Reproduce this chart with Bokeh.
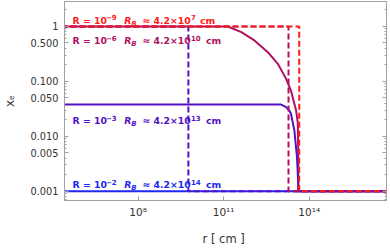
import numpy as np
from bokeh.plotting import figure
from bokeh.models import LogAxis, FixedTicker, Label, Range1d
from bokeh.embed import file_html
from bokeh.resources import INLINE

# ---------------- data ----------------
r_blue = [1e5, 1e17]
xe_blue = [0.001, 0.001]

r_crimson = [1e5, 1.41e11, 4.17e11, 1.20e12, 3.55e12, 7.94e12, 1.55e13, 2.29e13,
             3.02e13, 3.47e13, 3.98e13, 4.12e13, 4.17e13, 1e17]
xe_crimson = [1.0, 1.0, 0.787, 0.556, 0.340, 0.209, 0.111, 0.068,
              0.039, 0.0295, 0.0175, 0.005, 0.001, 0.001]

r_purple = [1e5, 1.0e13, 1.55e13, 2.0e13, 2.29e13, 3.02e13, 3.72e13, 3.98e13, 4.17e13, 1e17]
xe_purple = [0.038, 0.038, 0.034, 0.0295, 0.0257, 0.0128, 0.0042, 0.0021, 0.001, 0.001]

# dashed step fronts (x_e = 1 inside, 0.001 outside)
step_red = 4.47e13
step_crimson = 1.88e13
step_purple = 5.8e9

y_ticks = [0.001, 0.005, 0.01, 0.05, 0.1, 0.5, 1.0]
y_tick_labels = ["0.001", "0.005", "0.010", "0.050", "0.100", "0.500", "1"]
x_ticks = [1e8, 1e11, 1e14]
x_tick_labels = ["10⁸", "10¹¹", "10¹⁴"]

label_R_exp = ["−9", "−6", "−3", "−2"]
label_RB_exp = ["7", "10", "13", "14"]
label_y = [1.31, 0.556, 0.0194, 0.00131]   # baseline of each label (data units)

RED = "#ff1a1a"
CRIMSON = "#b01060"
PURPLE = "#5510c4"
BLUE = "#1e28f0"
label_colors = [RED, CRIMSON, PURPLE, BLUE]

FONT = "DejaVu Sans"
GRAY = "#a0a0a0"
TXT = "#333333"

p = figure(width=390, height=250, x_axis_type="log", y_axis_type="log",
           x_range=Range1d(10**5.42, 10**16.71), y_range=Range1d(6.76e-4, 2.85),
           output_backend="svg", toolbar_location=None,
           min_border_left=62, min_border_right=4, min_border_top=1, min_border_bottom=50)
p.xgrid.visible = False
p.ygrid.visible = False
p.outline_line_color = GRAY
p.background_fill_color = "white"

y_minor = [k * 10.0**n for n in range(-4, 1) for k in range(1, 10)]

def style_axis(ax, ticks, minor, show_labels):
    ax.ticker = FixedTicker(ticks=ticks, minor_ticks=minor)
    ax.axis_line_color = GRAY
    ax.major_tick_line_color = GRAY
    ax.minor_tick_line_color = GRAY
    ax.major_tick_in = 4
    ax.major_tick_out = 0
    ax.minor_tick_in = 2
    ax.minor_tick_out = 0
    ax.major_label_text_font = FONT
    ax.major_label_text_color = TXT
    ax.axis_label_text_font = FONT
    ax.axis_label_text_color = TXT
    ax.axis_label_text_font_style = "normal"
    if not show_labels:
        ax.major_label_text_font_size = "1px"
        ax.major_label_text_alpha = 0.0
        ax.major_label_standoff = 0

yax = p.yaxis[0]
style_axis(yax, y_ticks, y_minor, True)
yax.major_label_overrides = {t: s for t, s in zip(y_ticks, y_tick_labels)}
yax.major_label_text_font_size = "9.8px"
yax.major_label_standoff = 6
yax.axis_label = "xₑ"
yax.axis_label_text_font_size = "12px"
yax.axis_label_standoff = 10

xax = p.xaxis[0]
style_axis(xax, x_ticks, [1e8], True)
xax.major_label_overrides = {t: s for t, s in zip(x_ticks, x_tick_labels)}
xax.major_label_text_font_size = "10.5px"
xax.major_label_standoff = 5
xax.axis_label = "r  [ cm ]"
xax.axis_label_text_font_size = "11.5px"
xax.axis_label_standoff = 11

rax = LogAxis()
style_axis(rax, y_ticks, y_minor, False)
p.add_layout(rax, "right")

# ---------------- lines ----------------
W = 2.0
p.line(r_blue, xe_blue, line_color=BLUE, line_width=W)
p.line(r_crimson, xe_crimson, line_color=CRIMSON, line_width=W)
p.line(r_purple, xe_purple, line_color=PURPLE, line_width=W)
for step, col in [(step_purple, PURPLE), (step_crimson, CRIMSON), (step_red, RED)]:
    p.line([1e5, step, step, 1e17], [1.0, 1.0, 0.001, 0.001],
           line_color=col, line_width=W, line_dash="6 3")

# ---------------- labels ----------------
LX = 10**5.70
MAIN = "9.3px"
SMALL = "7px"
for i in range(4):
    col = label_colors[i]
    y = label_y[i]
    wide = len(label_RB_exp[i]) > 1
    pieces = [
        ("R = 10", 0, 0, MAIN, "bold"),
        (label_R_exp[i], 33.5, 2.8, SMALL, "bold"),
        ("R", 51.7, 0, MAIN, "bold italic"),
        ("B", 58.8, -3.5, SMALL, "bold italic"),
        ("≈ 4.2×10", 70, 0, MAIN, "bold"),
        (label_RB_exp[i], 118.5, 2.8, SMALL, "bold"),
        ("cm", 133.5 if wide else 127.5, 0, MAIN, "bold"),
    ]
    for txt, dx, dy, fs, style in pieces:
        p.add_layout(Label(x=LX, y=y, x_offset=dx, y_offset=dy, text=txt,
                           text_color=col, text_font=FONT, text_font_size=fs,
                           text_font_style=style, text_baseline="alphabetic",
                           text_align="left"))

open("out.html", "w").write(file_html(p, INLINE))
